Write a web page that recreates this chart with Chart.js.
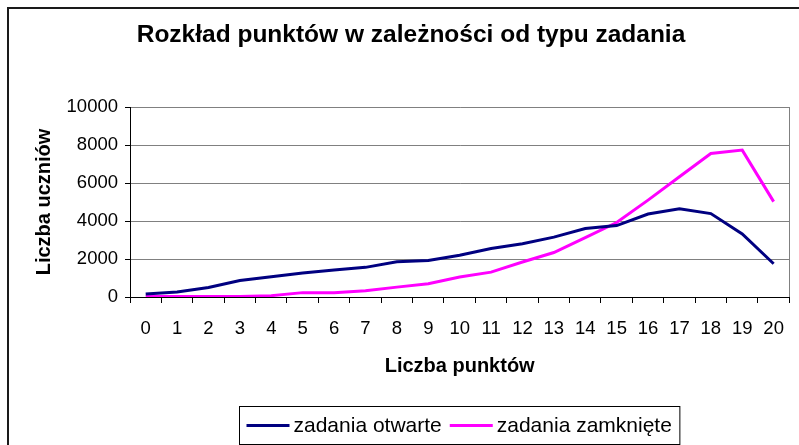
<!DOCTYPE html>
<html>
<head>
<meta charset="utf-8">
<script src="https://cdn.jsdelivr.net/npm/chart.js@4/dist/chart.umd.min.js"></script>
<style>
  html, body { margin: 0; padding: 0; background: #fff; }
  canvas { display: block; }
</style>
</head>
<body>
<canvas id="c" width="799" height="445"></canvas>
<script>
const categories = ['0','1','2','3','4','5','6','7','8','9','10','11','12','13','14','15','16','17','18','19','20'];
const zadaniaOtwarte = [160, 260, 500, 870, 1070, 1260, 1420, 1560, 1850, 1920, 2200, 2550, 2800, 3150, 3600, 3760, 4370, 4650, 4390, 3320, 1750];
const zadaniaZamkniete = [20, 20, 20, 30, 70, 230, 230, 330, 520, 700, 1050, 1310, 1840, 2340, 3130, 3920, 5100, 6330, 7550, 7730, 5020];
const seriesNames = ['zadania otwarte', 'zadania zamknięte'];
const chartTitle = 'Rozkład punktów w zależności od typu zadania';
const xTitle = 'Liczba punktów';
const yTitle = 'Liczba uczniów';

const FONT = "'Liberation Sans', Arial, Helvetica, sans-serif";

const framePlugin = {
  id: 'frame',
  beforeDatasetsDraw(chart) {
    const {ctx, chartArea} = chart;
    ctx.save();
    ctx.strokeStyle = '#808080';
    ctx.lineWidth = 1;
    ctx.beginPath();
    const x = Math.round(chartArea.right) + 0.5;
    ctx.moveTo(x, chartArea.top);
    ctx.lineTo(x, chartArea.bottom);
    ctx.stroke();
    ctx.restore();
  },
  afterDraw(chart) {
    const {ctx, chartArea} = chart;
    ctx.save();
    // outer chart border
    ctx.strokeStyle = '#1a1a1a';
    ctx.lineWidth = 2;
    ctx.strokeRect(8, 8, 1000, 1000);

    // custom legend with box
    ctx.font = '21px ' + FONT;
    ctx.textBaseline = 'middle';
    const ds = chart.data.datasets;
    const lineLen = 43;
    const padL = 7, gapLT = 4, gapItem = 8, padR = 8;
    const w0 = ctx.measureText(ds[0].label).width;
    const w1 = ctx.measureText(ds[1].label).width;
    const total = padL + lineLen + gapLT + w0 + gapItem + lineLen + gapLT + w1 + padR;
    const cx = (chartArea.left + chartArea.right) / 2;
    const bx = Math.round(cx - total / 2) + 0.5;
    const by = 406.5, bh = 38;
    ctx.fillStyle = '#fff';
    ctx.fillRect(bx, by, total, bh);
    ctx.strokeStyle = '#000';
    ctx.lineWidth = 1;
    ctx.strokeRect(bx, by, total, bh);
    const cy = by + bh / 2;
    let x = bx + padL;
    [0, 1].forEach(i => {
      ctx.strokeStyle = ds[i].borderColor;
      ctx.lineWidth = 3;
      ctx.beginPath();
      ctx.moveTo(x, cy);
      ctx.lineTo(x + lineLen, cy);
      ctx.stroke();
      x += lineLen + gapLT;
      ctx.fillStyle = '#000';
      ctx.textAlign = 'left';
      ctx.fillText(ds[i].label, x, cy + 1);
      x += (i === 0 ? w0 : w1) + gapItem;
    });
    ctx.restore();
  }
};

new Chart(document.getElementById('c'), {
  type: 'line',
  data: {
    labels: categories,
    datasets: [
      {
        label: seriesNames[0],
        data: zadaniaOtwarte,
        borderColor: '#000080',
        backgroundColor: '#000080',
        borderWidth: 3,
        pointRadius: 0,
        tension: 0,
        fill: false
      },
      {
        label: seriesNames[1],
        data: zadaniaZamkniete,
        borderColor: '#FF00FF',
        backgroundColor: '#FF00FF',
        borderWidth: 3,
        pointRadius: 0,
        tension: 0,
        fill: false
      }
    ]
  },
  options: {
    responsive: false,
    animation: false,
    devicePixelRatio: 1,
    layout: { padding: { left: 26, right: 3, top: 0, bottom: 0 } },
    plugins: {
      legend: { display: false },
      tooltip: { enabled: false },
      title: {
        display: true,
        text: chartTitle,
        color: '#000',
        font: { family: FONT, size: 24.5, weight: 'bold', lineHeight: 1.2 },
        padding: { top: 20.3, bottom: 57.3 }
      }
    },
    scales: {
      x: {
        type: 'category',
        offset: true,
        grid: {
          offset: true,
          drawOnChartArea: false,
          drawTicks: true,
          tickLength: 6,
          color: '#000',
          tickColor: '#000'
        },
        border: { display: true, color: '#000', width: 1 },
        ticks: {
          color: '#000',
          font: { family: FONT, size: 18.5 },
          padding: 15,
          autoSkip: false,
          maxRotation: 0,
          minRotation: 0
        },
        title: {
          display: true,
          text: xTitle,
          color: '#000',
          font: { family: FONT, size: 20, weight: 'bold', lineHeight: 1.2 },
          padding: { top: 0, bottom: 67 }
        },
        afterFit(scale) { scale.height = 148; }
      },
      y: {
        min: 0,
        max: 10000,
        ticks: {
          stepSize: 2000,
          color: '#000',
          font: { family: FONT, size: 18.5 },
          padding: 7,
          callback: (v) => String(v)
        },
        grid: {
          color: '#808080',
          tickColor: '#000',
          tickLength: 5,
          drawTicks: true
        },
        border: { display: true, color: '#000', width: 1 },
        title: {
          display: true,
          text: yTitle,
          color: '#000',
          font: { family: FONT, size: 20, weight: 'bold', lineHeight: 1.2 },
          padding: { top: 6, bottom: 0 }
        },
        afterFit(scale) { scale.width = 104; }
      }
    }
  },
  plugins: [framePlugin]
});
</script>
</body>
</html>
